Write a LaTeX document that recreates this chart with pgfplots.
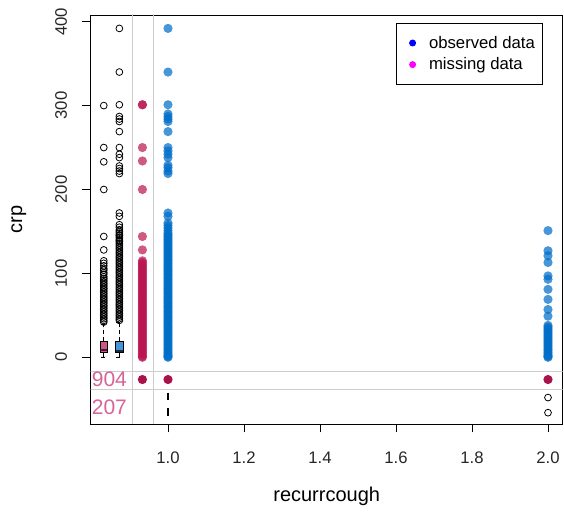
\documentclass[border=0pt]{standalone}
\usepackage{pgfplots}
\pgfplotsset{compat=1.18}
\usepgfplotslibrary{statistics}
\usepackage{pgfplotstable}
\usepackage{fontspec}
\setmainfont{Liberation Sans}

\definecolor{obsblue}{RGB}{0,110,200}
\definecolor{misred}{RGB}{185,20,80}
\definecolor{boxpink}{RGB}{205,85,135}
\definecolor{boxblue}{RGB}{70,150,215}
\definecolor{txtpink}{RGB}{215,100,150}
\definecolor{refgray}{RGB}{205,205,205}
\definecolor{legblue}{RGB}{0,0,255}
\definecolor{legmagenta}{RGB}{255,0,255}

% crp where recurrcough is observed, recurrcough = 1
\pgfplotstableread[row sep=\\]{
y\\392\\340\\301\\290\\287\\284\\281\\269\\250\\246\\242\\238\\229\\226\\222\\219\\
172\\168\\160\\157\\154\\151\\148\\146\\144\\142\\140\\138\\136\\134\\132\\130\\
128\\126\\124\\122\\120\\118\\116\\114\\112\\110\\108\\106\\104\\102\\100\\98\\
96\\94\\92\\90\\88\\86\\84\\82\\80\\78\\76\\74\\72\\70\\68\\66\\64\\62\\60\\58\\56\\54\\
52\\50\\48\\46\\44\\42\\40\\38\\36\\34\\32\\30\\28\\26\\24\\22\\20\\18\\16\\14\\12\\10\\
8\\6\\4\\2\\1\\0\\
}\obsone
% crp where recurrcough is observed, recurrcough = 2
\pgfplotstableread[row sep=\\]{
y\\151\\127\\121\\113\\97\\93\\81\\69\\57\\49\\38\\36\\34\\32\\30\\28\\26\\24\\22\\20\\18\\
16\\14\\12\\10\\8\\6\\4\\2\\1\\0\\
}\obstwo
% crp where recurrcough is missing
\pgfplotstableread[row sep=\\]{
y\\301\\301\\250\\234\\200\\144\\128\\115\\113\\111\\109\\107\\105\\103\\101\\99\\97\\95\\
93\\91\\89\\87\\85\\83\\81\\79\\77\\75\\73\\71\\69\\67\\65\\63\\61\\59\\57\\55\\53\\51\\
49\\47\\45\\43\\41\\39\\37\\35\\33\\31\\29\\27\\25\\23\\21\\19\\17\\15\\13\\11\\9\\7\\5\\3\\1\\0\\
}\misscol
% outliers of crp, recurrcough missing
\pgfplotstableread[row sep=\\]{
y\\300\\250\\233\\200\\144\\128\\115\\112\\109\\106\\104\\101\\99\\96\\94\\92\\90\\88\\86\\
84\\82\\80\\78\\76\\74\\72\\70\\68\\66\\64\\62\\60\\58\\56\\54\\52\\50\\48\\46\\44\\42\\
}\outpink
% outliers of crp, recurrcough observed
\pgfplotstableread[row sep=\\]{
y\\392\\340\\301\\287\\284\\281\\269\\250\\242\\238\\228\\225\\222\\219\\172\\168\\158\\
155\\152\\150\\148\\146\\145\\143\\141\\139\\138\\136\\134\\132\\130\\128\\126\\124\\
122\\120\\118\\116\\114\\112\\110\\108\\106\\104\\102\\100\\98\\96\\94\\92\\90\\88\\86\\
84\\82\\80\\78\\76\\74\\72\\70\\68\\66\\64\\62\\60\\58\\56\\54\\52\\50\\48\\46\\44\\
}\outblue

\begin{document}
\begin{tikzpicture}
\useasboundingbox (-90.7pt,-94pt) rectangle (473.3pt,424pt);
\begin{axis}[
  scale only axis,
  width=472pt, height=409pt,
  xmin=0.7966, xmax=2.0387,
  ymin=-79.5, ymax=408,
  axis line style={black, line width=0.9pt},
  tick style={black, line width=0.9pt},
  tick align=outside,
  major tick length=8.5pt,
  xtick={1,1.2,1.4,1.6,1.8,2},
  ytick={0,100,200,300,400},
  xtick pos=bottom, ytick pos=left,
  xticklabel={\pgfmathprintnumber[fixed,fixed zerofill,precision=1]{\tick}},
  /pgf/number format/assume math mode=true,
  ticklabel style={font=\fontsize{16.7}{18}\selectfont, text=black!85},
  xticklabel style={anchor=north, inner sep=0pt, yshift=-19pt},
  yticklabel style={xshift=-15pt, rotate=90, anchor=south, inner sep=0pt},
  xlabel={recurrcough},
  ylabel={crp},
  label style={font=\fontsize{20}{22}\selectfont},
  xlabel style={at={(axis description cs:0.5,-0.1907)}, anchor=base},
  ylabel style={at={(axis description cs:-0.1455,0.5)}, anchor=base, rotate=0},
  legend style={at={(0.959,0.981)}, anchor=north east, draw=black,
    line width=0.9pt, font=\fontsize{16.7}{18}\selectfont,
    inner xsep=6pt, inner ysep=11pt, row sep=4pt,
    nodes={inner sep=2pt}, cells={anchor=west}},
  legend cell align=left,
  legend image code/.code={%
    \path (0pt,0pt) (24pt,0pt);
    \draw[#1] plot coordinates {(10pt,0pt)};},
]
% reference lines separating the margins
\addplot[refgray, line width=0.8pt, forget plot] coordinates {(0.9064,-100) (0.9064,500)};
\addplot[refgray, line width=0.8pt, forget plot] coordinates {(0.9606,-100) (0.9606,500)};
\addplot[refgray, line width=0.8pt, forget plot] coordinates {(0.5,-17.2) (2.5,-17.2)};
\addplot[refgray, line width=0.8pt, forget plot] coordinates {(0.5,-37.8) (2.5,-37.8)};

% boxplots of crp in the left margin
\addplot[forget plot, fill=boxpink, draw=black, line width=0.7pt,
  boxplot/draw direction=y,
  boxplot prepared={draw position=0.831, box extend=0.0195,
    lower whisker=0.5, lower quartile=5.6, median=8.3,
    upper quartile=19.4, upper whisker=39,
    every median/.style={line width=2pt, black!70!boxpink},
    every whisker/.style={dashed, dash pattern=on 4pt off 3pt}}] coordinates {};
\addplot[forget plot, fill=boxblue, draw=black, line width=0.7pt,
  boxplot/draw direction=y,
  boxplot prepared={draw position=0.872, box extend=0.0195,
    lower whisker=0.5, lower quartile=5.6, median=7.5,
    upper quartile=19.4, upper whisker=42,
    every median/.style={line width=2pt, black!70!boxblue},
    every whisker/.style={dashed, dash pattern=on 4pt off 3pt}}] coordinates {};
\addplot[forget plot, only marks, mark=o, mark size=3.4pt, black, line width=0.8pt]
  table[x expr=0.831, y=y] {\outpink};
\addplot[forget plot, only marks, mark=o, mark size=3.4pt, black, line width=0.8pt]
  table[x expr=0.872, y=y] {\outblue};

% scatter of observed and missing values
\addplot[forget plot, only marks, mark=*, mark size=4.6pt, color=misred,
  mark options={draw opacity=0, fill=misred, fill opacity=0.7}]
  table[x expr=0.9327, y=y] {\misscol};
\addplot[forget plot, only marks, mark=*, mark size=4.6pt, color=obsblue,
  mark options={draw opacity=0, fill=obsblue, fill opacity=0.72}]
  table[x expr=1, y=y] {\obsone};
\addplot[forget plot, only marks, mark=*, mark size=4.6pt, color=obsblue,
  mark options={draw opacity=0, fill=obsblue, fill opacity=0.72}]
  table[x expr=2, y=y] {\obstwo};
\addplot[forget plot, only marks, mark=*, mark size=4.6pt, color=misred,
  mark options={draw opacity=0, fill=misred!92!black}]
  coordinates {(0.9327,-26.5) (1,-26.5) (2,-26.5)};

% boxplots of recurrcough in the bottom margin
\addplot[forget plot, black, line width=2.6pt] coordinates {(1,-42) (1,-51)};
\addplot[forget plot, black, line width=2.6pt] coordinates {(1,-61) (1,-70)};
\addplot[forget plot, only marks, mark=o, mark size=3.4pt, black, line width=0.8pt]
  coordinates {(2,-48) (2,-66)};

% counts of missing values
\node[anchor=base west, inner sep=0pt, text=txtpink, font=\fontsize{21}{23}\selectfont]
  at (axis cs:0.7992,-35) {904};
\node[anchor=base west, inner sep=0pt, text=txtpink, font=\fontsize{21}{23}\selectfont]
  at (axis cs:0.7992,-67.6) {207};

\addlegendimage{only marks, mark=*, mark size=3pt, legblue}
\addlegendentry{observed data}
\addlegendimage{only marks, mark=*, mark size=3pt, legmagenta}
\addlegendentry{missing data}
\end{axis}
\end{tikzpicture}
\end{document}
